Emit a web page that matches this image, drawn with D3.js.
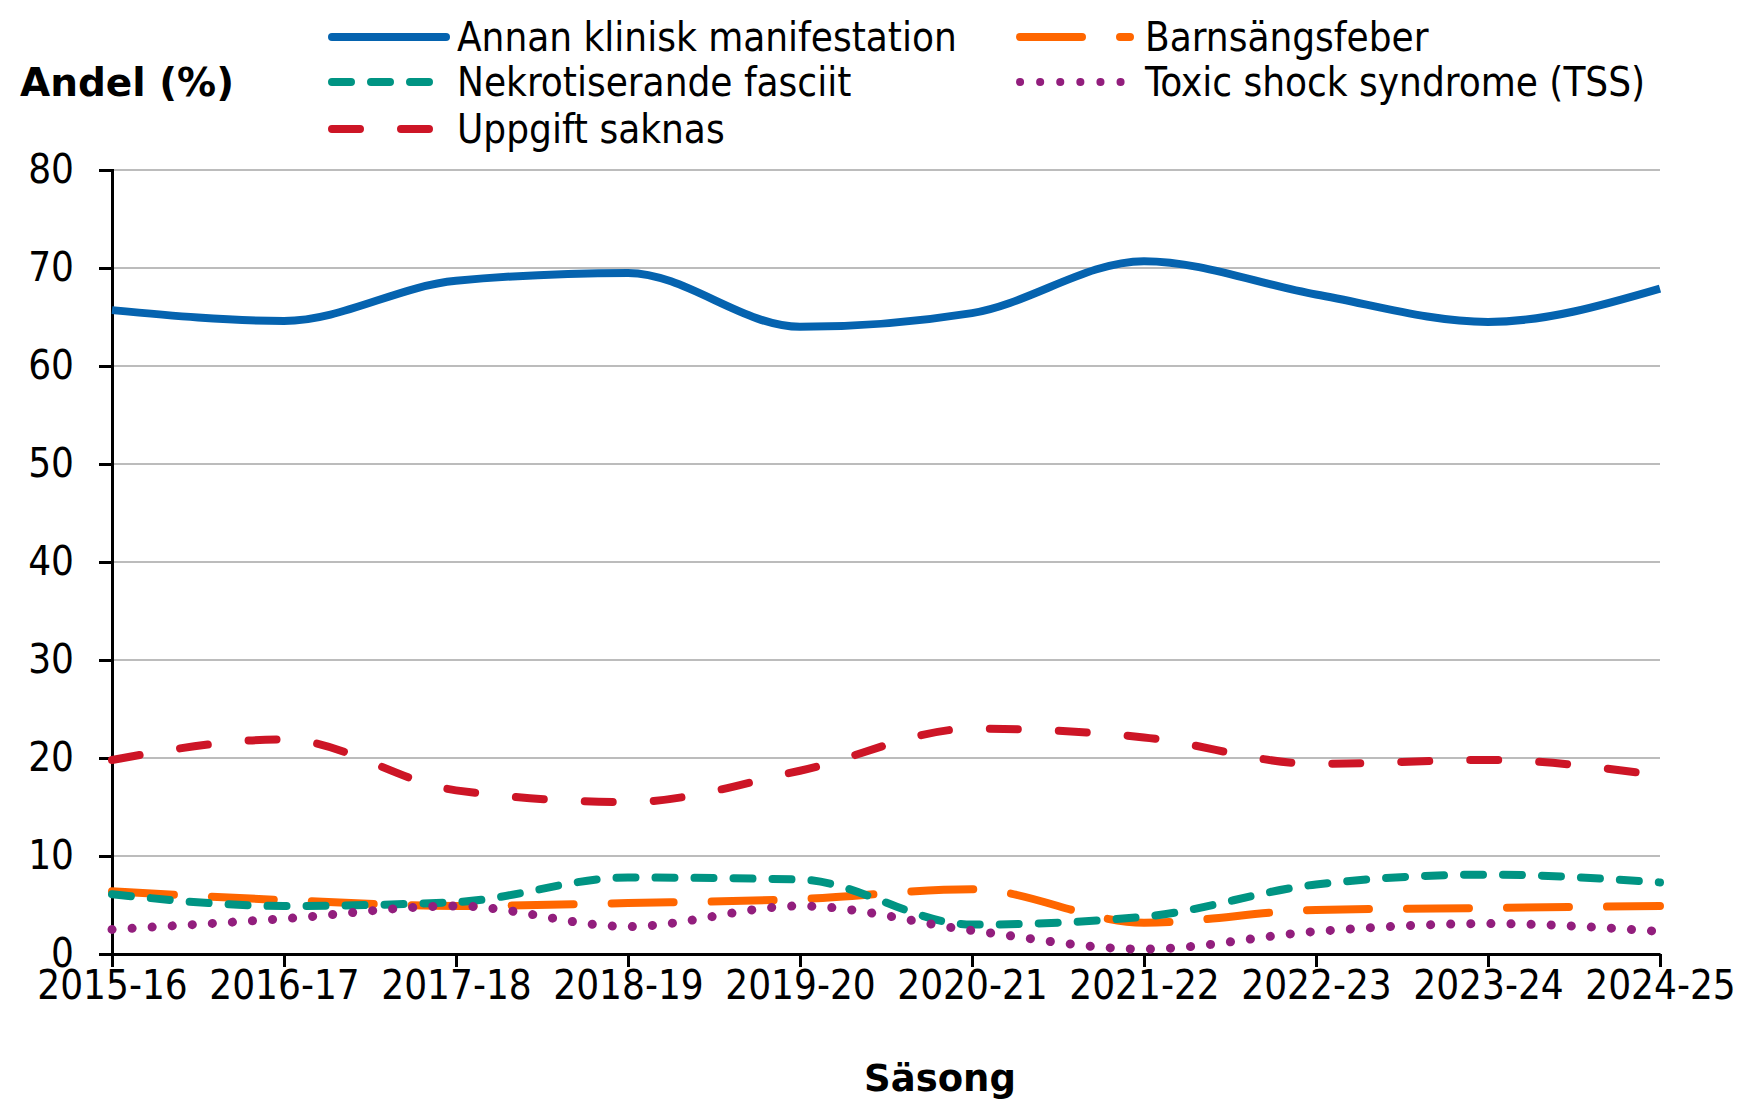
<!DOCTYPE html>
<html>
<head>
<meta charset="utf-8">
<script src="https://cdn.jsdelivr.net/npm/d3@7"></script>
<style>
  body { margin: 0; background: #fff; }
  svg text { font-family: "DejaVu Sans Condensed", "DejaVu Sans", sans-serif; fill: #000; }
  svg text.title { font-family: "DejaVu Sans", sans-serif; font-weight: bold; }
</style>
</head>
<body>
<svg width="1755" height="1105"></svg>
<script>
var seasons = ["2015-16", "2016-17", "2017-18", "2018-19", "2019-20",
               "2020-21", "2021-22", "2022-23", "2023-24", "2024-25"];

var annan = [65.7, 64.6, 68.7, 69.5, 64.0, 65.4, 70.7, 67.3, 64.5, 67.9];
var barnsang = [6.4, 5.5, 4.9, 5.2, 5.6, 6.6, 3.2, 4.5, 4.7, 4.9];
var nekrot = [6.1, 4.9, 5.3, 7.8, 7.6, 3.0, 3.8, 7.1, 8.1, 7.3];
var tss = [2.5, 3.6, 4.9, 2.8, 4.9, 2.4, 0.5, 2.3, 3.1, 2.3];
var saknas = [19.8, 21.9, 16.7, 15.5, 18.7, 23.0, 22.1, 19.4, 19.8, 18.2];

var yTicks = [0, 10, 20, 30, 40, 50, 60, 70, 80];

var series = [
  { name: "Annan klinisk manifestation", values: annan, color: "#0563af", width: 8, dash: null, cap: "butt" },
  { name: "Barnsängsfeber", values: barnsang, color: "#ff6600", width: 8, dash: "62,38", cap: "round" },
  { name: "Nekrotiserande fasciit", values: nekrot, color: "#009483", width: 8, dash: "19,20", cap: "round" },
  { name: "Toxic shock syndrome (TSS)", values: tss, color: "#921e7d", width: 9, dash: "0.1,20", cap: "round" },
  { name: "Uppgift saknas", values: saknas, color: "#cd1526", width: 8, dash: "28,41", cap: "round" }
];

var svg = d3.select("svg"),
    plotLeft = 112, plotRight = 1660, plotTop = 170, plotBottom = 954;

var x = d3.scalePoint().domain(seasons).range([plotLeft, plotRight]);
var y = d3.scaleLinear().domain([0, 80]).range([plotBottom, plotTop]);

// gridlines
svg.append("g")
  .selectAll("line")
  .data(yTicks.filter(function(d) { return d > 0; }))
  .enter().append("line")
  .attr("x1", plotLeft).attr("x2", plotRight)
  .attr("y1", function(d) { return y(d); })
  .attr("y2", function(d) { return y(d); })
  .attr("stroke", "#a6a6a6").attr("stroke-width", 1.5);

// y axis
var yAxis = svg.append("g")
  .attr("transform", "translate(" + plotLeft + ",0)")
  .call(d3.axisLeft(y).tickValues(yTicks).tickSize(13).tickPadding(25));
yAxis.select(".domain").attr("stroke", "#000").attr("stroke-width", 3);
yAxis.selectAll(".tick line").attr("stroke", "#000").attr("stroke-width", 3);
yAxis.selectAll(".tick text").attr("font-size", 40).attr("font-family", null);

// x axis
var xAxis = svg.append("g")
  .attr("transform", "translate(0," + plotBottom + ")")
  .call(d3.axisBottom(x).tickSize(13).tickPadding(4).tickSizeOuter(0));
xAxis.select(".domain").attr("stroke", "#000").attr("stroke-width", 3);
xAxis.selectAll(".tick line").attr("stroke", "#000").attr("stroke-width", 3);
xAxis.selectAll(".tick text").attr("font-size", 40).attr("font-family", null);

// lines
var line = d3.line()
  .x(function(d, i) { return x(seasons[i]); })
  .y(function(d) { return y(d); })
  .curve(d3.curveMonotoneX);

var drawOrder = [0, 4, 1, 2, 3];
drawOrder.forEach(function(k) {
  var s = series[k];
  svg.append("path")
    .datum(s.values)
    .attr("d", line)
    .attr("fill", "none")
    .attr("stroke", s.color)
    .attr("stroke-width", s.width)
    .attr("stroke-linecap", s.cap)
    .attr("stroke-linejoin", "round")
    .attr("stroke-dasharray", s.dash);
});

// axis titles
svg.append("text")
  .attr("class", "title")
  .attr("x", 20).attr("y", 96)
  .attr("font-size", 39)
  .text("Andel (%)");
svg.append("text")
  .attr("class", "title")
  .attr("x", 940).attr("y", 1091)
  .attr("text-anchor", "middle")
  .attr("font-size", 37)
  .text("Säsong");

// legend
var legendItems = [
  { s: series[0], lx: 328, ly: 37 },
  { s: series[2], lx: 328, ly: 82 },
  { s: series[4], lx: 328, ly: 129 },
  { s: series[1], lx: 1016, ly: 37 },
  { s: series[3], lx: 1016, ly: 82 }
];
var legend = svg.append("g");
legendItems.forEach(function(it) {
  var sampleLen = it.s.dash ? 114 : 118;
  legend.append("line")
    .attr("x1", it.lx + 4).attr("x2", it.lx + sampleLen)
    .attr("y1", it.ly).attr("y2", it.ly)
    .attr("stroke", it.s.color)
    .attr("stroke-width", 8)
    .attr("stroke-linecap", "round")
    .attr("stroke-dasharray", it.s.dash);
  legend.append("text")
    .attr("x", it.lx + 129).attr("y", it.ly)
    .attr("dy", "0.36em")
    .attr("font-size", 40)
    .text(it.s.name);
});
</script>
</body>
</html>
